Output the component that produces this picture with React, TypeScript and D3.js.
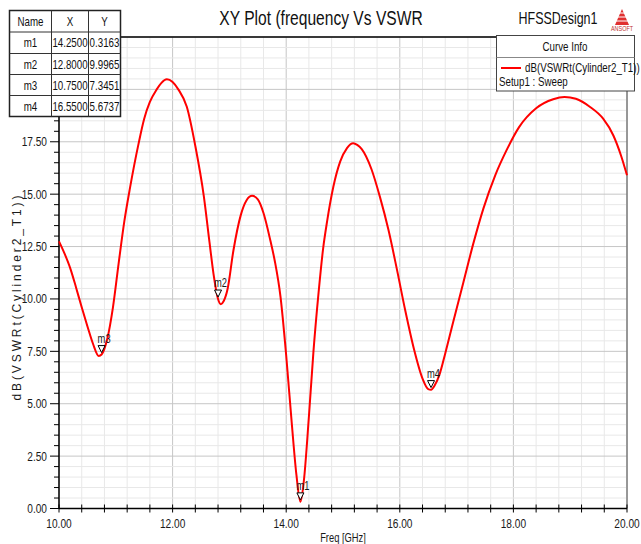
import React, { useEffect, useRef } from "react";
import * as d3 from "d3";

const width = 641;
const height = 544;
const plotLeft = 59;
const plotRight = 627;
const plotTop = 37;
const plotBottom = 508.5;

const fontFamily = "'Liberation Sans', Arial, sans-serif";
const squeeze = 0.78; // the original font is a narrow Arial

// frequency sweep (GHz) and dB(VSWR)
const freq = [
  10.0, 10.1, 10.2, 10.3, 10.4, 10.5, 10.6, 10.7, 10.75, 10.85, 10.95, 11.05, 11.15, 11.25, 11.4,
  11.5, 11.6, 11.72, 11.8, 11.9, 12.0, 12.1, 12.25, 12.4, 12.55, 12.65, 12.72, 12.8, 12.85, 12.9,
  12.97, 13.07, 13.2, 13.3, 13.4, 13.5, 13.6, 13.72, 13.8, 13.9, 14.0, 14.1, 14.18, 14.25, 14.31,
  14.4, 14.48, 14.57, 14.65, 14.72, 14.83, 14.95, 15.07, 15.18, 15.25, 15.33, 15.5, 15.65, 15.8,
  15.95, 16.1, 16.25, 16.4, 16.5, 16.55, 16.62, 16.7, 16.8, 16.94, 17.12, 17.3, 17.47, 17.68,
  17.88, 18.1, 18.4, 18.7, 18.9, 19.1, 19.35, 19.58, 19.76, 19.9, 20.0,
];
const vswrDb = [
  12.75, 12.15, 11.45, 10.55, 9.6, 8.7, 7.85, 7.28, 7.35, 8.1, 9.6, 11.7, 13.7, 15.3, 17.4,
  18.6, 19.4, 20.0, 20.3, 20.48, 20.35, 20.0, 19.17, 17.3, 14.9, 12.7, 11.2, 10.0, 9.75, 9.9,
  10.5, 12.3, 14.0, 14.7, 14.92, 14.75, 14.1, 12.8, 11.8, 10.1, 7.3, 4.0, 1.6, 0.32, 1.3,
  4.4, 7.5, 10.3, 12.4, 13.7, 15.35, 16.55, 17.2, 17.43, 17.35, 17.15, 16.2, 14.87, 13.3,
  11.4, 9.4, 7.6, 6.2, 5.7, 5.67, 5.9, 6.4, 7.4, 8.9, 10.8, 12.7, 14.3, 15.9,
  17.1, 18.2, 19.1, 19.53, 19.64, 19.55, 19.16, 18.6, 17.8, 16.8, 15.9,
];

// markers
const markerNames = ["m1", "m2", "m3", "m4"];
const markerX = [14.25, 12.8, 10.75, 16.55];
const markerY = [0.3163, 9.9965, 7.3451, 5.6737];

const xTicks = [10, 12, 14, 16, 18, 20];
// 20.00 and 22.50 sit behind the marker table in the original
const yTicks = [0, 2.5, 5, 7.5, 10, 12.5, 15, 17.5];

// squeezed text helper
function label(parent, x, y, text, size, anchor = "start", fill = "#1a1a1a") {
  return parent
    .append("text")
    .attr("transform", `translate(${x},${y}) scale(${squeeze},1)`)
    .attr("text-anchor", anchor)
    .attr("font-family", fontFamily)
    .attr("font-size", size)
    .attr("fill", fill)
    .text(text);
}

export default function App() {
  const ref = useRef<SVGSVGElement>(null);

  useEffect(() => {
    const svg = d3.select(ref.current);
    svg.selectAll("*").remove();

    const x = d3.scaleLinear().domain([10, 20]).range([plotLeft, plotRight]);
    const y = d3.scaleLinear().domain([0, 22.5]).range([plotBottom, plotTop]);
    const isMajorY = d => Math.abs(d / 2.5 - Math.round(d / 2.5)) < 1e-6;
    const isMajorX = d => xTicks.some(t => Math.abs(t - d) < 1e-6);

    svg.append("rect").attr("width", width).attr("height", height).attr("fill", "white");

    // grid
    const grid = svg.append("g");
    const xMinor = d3.range(10, 20.001, 0.4);
    const yMinor = d3.range(0, 22.501, 0.5);
    grid
      .selectAll(".vx")
      .data(xMinor)
      .join("line")
      .attr("x1", d => x(d))
      .attr("x2", d => x(d))
      .attr("y1", plotTop)
      .attr("y2", plotBottom)
      .attr("stroke", d => (isMajorX(d) ? "#c6c6c6" : "#e8e8e8"))
      .attr("stroke-width", 1);
    grid
      .selectAll(".hy")
      .data(yMinor)
      .join("line")
      .attr("x1", plotLeft)
      .attr("x2", plotRight)
      .attr("y1", d => y(d))
      .attr("y2", d => y(d))
      .attr("stroke", d => (isMajorY(d) ? "#c6c6c6" : "#e8e8e8"))
      .attr("stroke-width", 1);

    // frame
    svg.append("line").attr("x1", plotRight).attr("x2", plotRight).attr("y1", plotTop).attr("y2", plotBottom)
      .attr("stroke", "#666").attr("stroke-width", 1.2);
    svg.append("line").attr("x1", plotLeft).attr("x2", plotRight).attr("y1", plotTop).attr("y2", plotTop)
      .attr("stroke", "#000").attr("stroke-width", 1.5);

    // y axis
    const yAxis = svg.append("g");
    yAxis.selectAll("line").data(yMinor).join("line")
      .attr("x1", d => (isMajorY(d) ? plotLeft - 9 : plotLeft - 5))
      .attr("x2", plotLeft)
      .attr("y1", d => y(d)).attr("y2", d => y(d))
      .attr("stroke", "#000").attr("stroke-width", 1);
    yAxis.append("line").attr("x1", plotLeft).attr("x2", plotLeft).attr("y1", plotTop).attr("y2", plotBottom)
      .attr("stroke", "#000").attr("stroke-width", 1.5);
    yTicks.forEach(t => label(yAxis, plotLeft - 12, y(t) + 4.5, t.toFixed(2), 13, "end"));

    // x axis
    const xAxis = svg.append("g");
    xAxis.selectAll("line").data(xMinor).join("line")
      .attr("x1", d => x(d)).attr("x2", d => x(d))
      .attr("y1", plotBottom - 4).attr("y2", plotBottom + 4)
      .attr("stroke", "#000").attr("stroke-width", 1);
    xAxis.append("line").attr("x1", plotLeft).attr("x2", plotRight).attr("y1", plotBottom).attr("y2", plotBottom)
      .attr("stroke", "#000").attr("stroke-width", 1.5);
    xTicks.forEach(t => label(xAxis, x(t), plotBottom + 19, t.toFixed(2), 13, "middle"));

    label(svg, 343, 542, "Freq [GHz]", 12, "middle");

    svg.append("text")
      .attr("transform", "translate(21,298) rotate(-90)")
      .attr("text-anchor", "middle")
      .attr("font-family", fontFamily).attr("font-size", 12).attr("fill", "#1a1a1a")
      .attr("textLength", 205).attr("lengthAdjust", "spacing")
      .text("dB(VSWRt(Cylinder2_T1))");

    // curve
    const pts = freq.map((f, i) => [f, vswrDb[i]] as [number, number]);
    svg.append("path")
      .datum(pts)
      .attr("fill", "none")
      .attr("stroke", "#ff0000")
      .attr("stroke-width", 2)
      .attr("stroke-linejoin", "round")
      .attr("d", d3.line<[number, number]>().curve(d3.curveMonotoneX).x(d => x(d[0])).y(d => y(d[1])));

    // markers
    const mk = svg.append("g");
    markerNames.forEach((name, i) => {
      const px = x(markerX[i]);
      const py = y(markerY[i]);
      mk.append("path")
        .attr("d", `M${px - 3.5},${py - 9} L${px + 3.5},${py - 9} L${px},${py - 2} Z`)
        .attr("fill", "white")
        .attr("stroke", "#000")
        .attr("stroke-width", 1);
      label(mk, px - 4, py - 12, name, 12);
    });

    // title
    label(svg, 321, 25, "XY Plot (frequency Vs VSWR", 20, "middle", "#111");
    label(svg, 558, 24, "HFSSDesign1", 16, "middle", "#111");

    // ansoft logo
    const logo = svg.append("g").attr("transform", "translate(622,9)");
    logo.append("path").attr("d", "M0,0 L-7,16 L7,16 Z").attr("fill", "#e03030");
    [4, 8, 12].forEach(s => logo.append("line")
      .attr("x1", -8).attr("x2", 8).attr("y1", s).attr("y2", s)
      .attr("stroke", "white").attr("stroke-width", 1));
    label(logo, 0, 22, "ANSOFT", 7, "middle", "#c03030");

    // marker table
    const tbl = svg.append("g");
    const colX = [9.5, 51.5, 88.5, 120.5];
    const rowY = [10.5, 32, 53.5, 74.5, 95.5, 116.5];
    tbl.append("rect").attr("x", colX[0]).attr("y", rowY[0])
      .attr("width", colX[3] - colX[0]).attr("height", rowY[5] - rowY[0])
      .attr("fill", "white").attr("stroke", "#222").attr("stroke-width", 1.5);
    rowY.slice(1, 5).forEach(r => tbl.append("line").attr("x1", colX[0]).attr("x2", colX[3])
      .attr("y1", r).attr("y2", r).attr("stroke", "#333"));
    colX.slice(1, 3).forEach(c => tbl.append("line").attr("x1", c).attr("x2", c)
      .attr("y1", rowY[0]).attr("y2", rowY[5]).attr("stroke", "#333"));
    const rows = [["Name", "X", "Y"]].concat(
      markerNames.map((n, i) => [n, markerX[i].toFixed(4), markerY[i].toFixed(4)])
    );
    rows.forEach((row, ri) => {
      row.forEach((cell, ci) => {
        label(tbl, (colX[ci] + colX[ci + 1]) / 2, (rowY[ri] + rowY[ri + 1]) / 2 + 4.5, cell, 12.5, "middle", "#111");
      });
    });

    // curve info legend
    const lg = svg.append("g");
    lg.append("rect").attr("x", 496.5).attr("y", 35.5).attr("width", 138).attr("height", 55.5)
      .attr("fill", "white").attr("stroke", "#444").attr("stroke-width", 1);
    lg.append("line").attr("x1", 496.5).attr("x2", 634.5).attr("y1", 57.5).attr("y2", 57.5)
      .attr("stroke", "#888");
    label(lg, 565, 51, "Curve Info", 12.5, "middle", "#111");
    lg.append("line").attr("x1", 501).attr("x2", 521).attr("y1", 68).attr("y2", 68)
      .attr("stroke", "#ff0000").attr("stroke-width", 2);
    label(lg, 525, 72, "dB(VSWRt(Cylinder2_T1))", 12.5, "start", "#111");
    label(lg, 499, 86, "Setup1 : Sweep", 12.5, "start", "#111");
  }, []);

  return (
    <svg
      ref={ref}
      width={width}
      height={height}
      viewBox={`0 0 ${width} ${height}`}
      style={{ position: "absolute", left: 0, top: 0 }}
    ></svg>
  );
}
